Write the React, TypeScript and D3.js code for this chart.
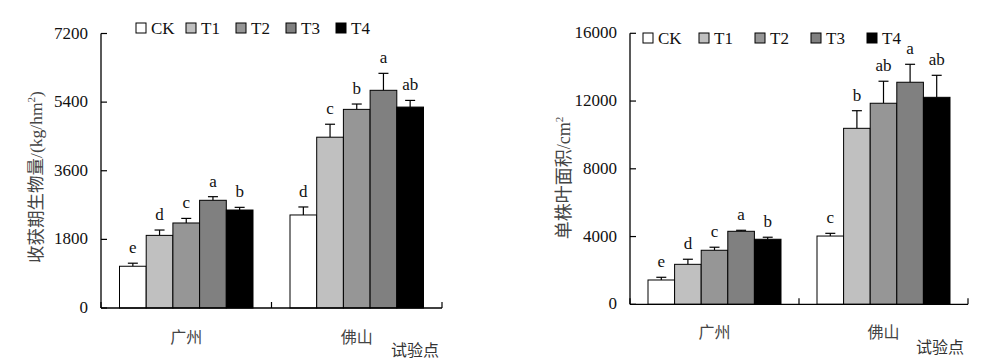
import React from 'react';
import * as d3 from 'd3';

// sites and treatments
const sites = ['广州', '佛山'];
const series = ['CK', 'T1', 'T2', 'T3', 'T4'];
const fills = ['#ffffff', '#c0c0c0', '#969696', '#808080', '#000000'];

// biomass at harvest (kg/hm2)
const biomass = [
  [1095, 1905, 2230, 2825, 2570],
  [2440, 4480, 5210, 5710, 5270],
];
const biomassErr = [
  [80, 140, 120, 95, 70],
  [210, 340, 140, 445, 175],
];
const biomassSig = [
  ['e', 'd', 'c', 'a', 'b'],
  ['d', 'c', 'b', 'a', 'ab'],
];
const biomassTicks = [0, 1800, 3600, 5400, 7200];

// leaf area per plant (cm2)
const leafArea = [
  [1435, 2360, 3190, 4310, 3840],
  [4030, 10390, 11870, 13110, 12220],
];
const leafAreaErr = [
  [160, 300, 180, 60, 120],
  [160, 1040, 1300, 1060, 1300],
];
const leafAreaSig = [
  ['e', 'd', 'c', 'a', 'b'],
  ['c', 'b', 'ab', 'a', 'ab'],
];
const leafAreaTicks = [0, 4000, 8000, 12000, 16000];

const serif = '"Liberation Serif", "Times New Roman", "Noto Sans CJK SC", serif';
const cjk = '"Noto Sans CJK SC", sans-serif';

type PanelProps = {
  values: number[][];
  errs: number[][];
  sig: string[][];
  ticks: number[];
  x0: number;
  x1: number;
  yTop: number;
  yZero: number;
  groupW: number;
  legendX: number;
  legendY: number;
  legendStep: number;
  yLabel: React.ReactNode;
  yLabelX: number;
  yLabelY: number;
  yLabelSize: number;
  siteY: number;
  axisTitleX: number;
  axisTitleY: number;
};

const Panel = (p: PanelProps) => {
  const max = p.ticks[p.ticks.length - 1];
  const y = d3.scaleLinear().domain([0, max]).range([p.yZero, p.yTop]);
  const xSite = d3.scaleBand().domain(sites).range([p.x0, p.x1]);
  const bw = xSite.bandwidth();
  const xSer = d3
    .scaleBand()
    .domain(series)
    .range([(bw - p.groupW) / 2, (bw + p.groupW) / 2]);

  return (
    <g>
      {/* bars */}
      {sites.map((s, si) => (
        <g key={s} transform={`translate(${xSite(s)},0)`}>
          {series.map((k, ki) => {
            const v = p.values[si][ki];
            const e = p.errs[si][ki];
            const bx = xSer(k)!;
            const cx = bx + xSer.bandwidth() / 2;
            return (
              <g key={k}>
                <line x1={cx} x2={cx} y1={y(v)} y2={y(v + e)} stroke="#000" strokeWidth={1.2} />
                <line x1={cx - 5} x2={cx + 5} y1={y(v + e)} y2={y(v + e)} stroke="#000" strokeWidth={1.2} />
                <rect
                  x={bx}
                  y={y(v)}
                  width={xSer.bandwidth()}
                  height={p.yZero - y(v)}
                  fill={fills[ki]}
                  stroke="#000"
                  strokeWidth={1}
                />
                <text
                  x={cx}
                  y={y(v + e) - 10}
                  textAnchor="middle"
                  fontFamily={serif}
                  fontSize={17}
                  fill="#111"
                >
                  {p.sig[si][ki]}
                </text>
              </g>
            );
          })}
          <text
            x={bw / 2}
            y={p.siteY}
            textAnchor="middle"
            fontFamily={cjk}
            fontSize={16}
            fill="#444"
          >
            {s}
          </text>
        </g>
      ))}

      {/* y axis */}
      <line x1={p.x0} x2={p.x0} y1={p.yTop} y2={p.yZero} stroke="#000" strokeWidth={1.3} />
      {p.ticks.map((t) => (
        <g key={t}>
          <line x1={p.x0} x2={p.x0 + 6} y1={y(t)} y2={y(t)} stroke="#000" strokeWidth={1.2} />
          <text
            x={p.x0 - 13}
            y={y(t) + 5}
            textAnchor="end"
            fontFamily={serif}
            fontSize={17}
            fill="#111"
          >
            {t}
          </text>
        </g>
      ))}

      {/* x axis */}
      <line x1={p.x0} x2={p.x1} y1={p.yZero} y2={p.yZero} stroke="#000" strokeWidth={1.3} />
      {[p.x0, ...sites.map((s) => xSite(s)! + bw)].map((tx, i) => (
        <line key={i} x1={tx} x2={tx} y1={p.yZero} y2={p.yZero - 6} stroke="#000" strokeWidth={1.2} />
      ))}

      {/* legend */}
      {series.map((k, ki) => (
        <g key={k} transform={`translate(${p.legendX + ki * p.legendStep},${p.legendY})`}>
          <rect x={0} y={0} width={10} height={10} fill={fills[ki]} stroke="#000" strokeWidth={1} />
          <text x={15} y={10.5} fontFamily={serif} fontSize={17} fill="#111">
            {k}
          </text>
        </g>
      ))}

      {/* axis titles */}
      <text
        transform={`translate(${p.yLabelX},${p.yLabelY}) rotate(-90)`}
        textAnchor="middle"
        fontFamily={serif}
        fontSize={p.yLabelSize}
        fill="#444"
      >
        {p.yLabel}
      </text>
      <text
        x={p.axisTitleX}
        y={p.axisTitleY}
        textAnchor="middle"
        fontFamily={cjk}
        fontSize={16}
        fill="#333"
      >
        试验点
      </text>
    </g>
  );
};

export default function App() {
  return (
    <svg
      width={1005}
      height={364}
      style={{ position: 'absolute', left: 0, top: 0, background: '#fff' }}
    >
      <Panel
        values={biomass}
        errs={biomassErr}
        sig={biomassSig}
        ticks={biomassTicks}
        x0={101}
        x1={442}
        yTop={33.5}
        yZero={308}
        groupW={133.5}
        legendX={136}
        legendY={23}
        legendStep={50}
        yLabel={
          <>
            <tspan fontFamily={cjk}>收获期生物量</tspan>
            /(kg/hm
            <tspan fontSize={11} dy={-7}>2</tspan>
            <tspan dy={7}>)</tspan>
          </>
        }
        yLabelX={42}
        yLabelY={177}
        yLabelSize={17.5}
        siteY={343}
        axisTitleX={415}
        axisTitleY={356}
      />
      <Panel
        values={leafArea}
        errs={leafAreaErr}
        sig={leafAreaSig}
        ticks={leafAreaTicks}
        x0={630}
        x1={968}
        yTop={33.3}
        yZero={304.3}
        groupW={133}
        legendX={643}
        legendY={33}
        legendStep={56}
        yLabel={
          <>
            <tspan fontFamily={cjk}>单株叶面积</tspan>
            /cm
            <tspan fontSize={11} dy={-7}>2</tspan>
          </>
        }
        yLabelX={570}
        yLabelY={178}
        yLabelSize={18}
        siteY={338}
        axisTitleX={940}
        axisTitleY={353}
      />
    </svg>
  );
}
